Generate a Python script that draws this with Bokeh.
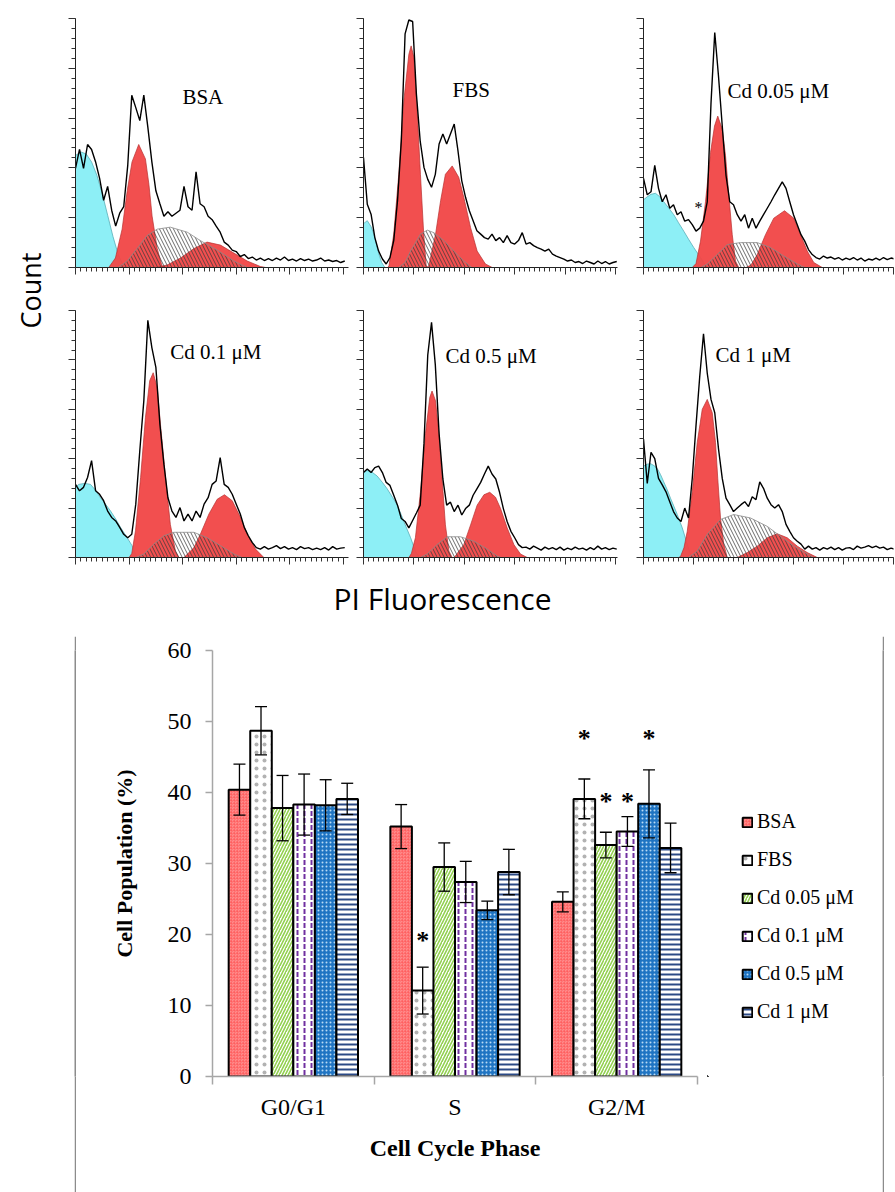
from bokeh.plotting import figure
from bokeh.models import (Range1d, SingleIntervalTicker, FixedTicker, Label, Whisker,
                          TeeHead, ColumnDataSource, Legend, LegendItem, Spacer)
from bokeh.layouts import row, column
from bokeh.core.properties import value
from bokeh.embed import file_html
from bokeh.resources import INLINE

# ---------------- flow-cytometry histograms (channel 0..1000, counts in axis units 0..5) -----
TRACE_CH = list(range(0, 1006, 15))

BSA_TRACE = [1.99, 2.37, 1.99, 2.47, 2.37, 2.12, 1.79, 1.35, 1.63, 1.15,
             0.83, 1.09, 1.22, 2.05, 3.46, 3.21, 2.95, 3.46, 2.82, 2.12,
             1.54, 1.28, 1.03, 1.12, 1.03, 1.09, 1.15, 1.63, 1.22, 1.15,
             1.92, 1.28, 1.22, 1.03, 0.96, 0.83, 0.71, 0.51, 0.45, 0.35,
             0.32, 0.22, 0.26, 0.18, 0.21, 0.15, 0.19, 0.14, 0.18, 0.14,
             0.19, 0.15, 0.21, 0.14, 0.17, 0.13, 0.18, 0.14, 0.17, 0.13,
             0.15, 0.19, 0.13, 0.15, 0.12, 0.14, 0.10, 0.13]
BSA_DEB_X = [0, 20, 40, 60, 80, 100, 120, 140, 160, 180, 190]
BSA_DEB_Y = [2.25, 2.32, 2.28, 2.12, 1.85, 1.48, 1.05, 0.62, 0.25, 0.03, 0]
BSA_G1_X = [124, 149, 174, 193, 211, 236, 261, 274, 286, 305, 323, 335]
BSA_G1_Y = [0, 0.19, 0.77, 1.54, 2.12, 2.47, 2.18, 1.67, 1.03, 0.38, 0.03, 0]
BSA_S_X = [160, 193, 230, 267, 305, 354, 417, 466, 529, 591, 640]
BSA_S_Y = [0, 0.13, 0.38, 0.64, 0.77, 0.81, 0.71, 0.54, 0.35, 0.13, 0]
BSA_G2_X = [300, 342, 392, 442, 491, 541, 591, 641, 690, 710]
BSA_G2_Y = [0, 0.05, 0.19, 0.38, 0.51, 0.45, 0.29, 0.13, 0.02, 0]

FBS_TRACE = [2.21, 1.27, 1.07, 0.60, 0.33, 0.17, 0.07, 0.20, 0.54, 1.34,
             2.54, 4.69, 4.97, 4.94, 3.48, 2.54, 2.01, 1.77, 1.61, 1.87,
             2.48, 2.68, 2.48, 2.68, 2.88, 2.34, 1.74, 1.41, 1.14, 0.94,
             0.74, 0.67, 0.60, 0.57, 0.67, 0.54, 0.60, 0.50, 0.64, 0.50,
             0.47, 0.54, 0.70, 0.47, 0.50, 0.44, 0.40, 0.37, 0.33, 0.37,
             0.27, 0.23, 0.20, 0.17, 0.13, 0.15, 0.10, 0.12, 0.08, 0.13,
             0.10, 0.07, 0.13, 0.08, 0.12, 0.07, 0.10, 0.12]
FBS_DEB_X = [0, 15, 30, 41, 52, 61, 72, 85]
FBS_DEB_Y = [0.88, 0.94, 0.82, 0.67, 0.45, 0.27, 0.10, 0]
FBS_G1_X = [95, 101, 120, 140, 160, 180, 189, 200, 213, 226, 239, 249, 255]
FBS_G1_Y = [0, 0.03, 0.67, 1.87, 3.35, 4.28, 4.45, 4.22, 3.15, 1.87, 0.67, 0.03, 0]
FBS_S_X = [140, 165, 187, 226, 253, 279, 319, 358, 398, 430]
FBS_S_Y = [0, 0.10, 0.33, 0.67, 0.75, 0.70, 0.54, 0.33, 0.13, 0]
FBS_G2_X = [250, 259, 286, 306, 325, 352, 378, 398, 425, 451, 484, 511]
FBS_G2_Y = [0, 0.03, 0.67, 1.34, 1.87, 2.04, 1.81, 1.41, 0.80, 0.33, 0.07, 0]

CD005_TRACE = [1.79, 1.46, 1.52, 2.05, 1.59, 1.32, 1.46, 1.19, 1.26, 1.06,
               1.12, 0.93, 0.96, 0.86, 0.73, 0.79, 0.93, 1.32, 3.30, 4.72,
               3.84, 2.84, 1.85, 1.32, 1.26, 1.06, 0.93, 1.06, 0.79, 0.99,
               0.79, 0.93, 1.06, 1.19, 1.32, 1.46, 1.59, 1.72, 1.59, 1.32,
               1.06, 0.86, 0.66, 0.53, 0.36, 0.26, 0.20, 0.17, 0.23, 0.19,
               0.21, 0.17, 0.20, 0.15, 0.19, 0.16, 0.20, 0.15, 0.19, 0.13,
               0.17, 0.15, 0.19, 0.15, 0.20, 0.16, 0.19, 0.17]
CD005_DEB_X = [0, 15, 30, 48, 65, 81, 100, 121, 140, 161, 180, 201, 228, 245, 258]
CD005_DEB_Y = [1.36, 1.42, 1.47, 1.49, 1.42, 1.32, 1.20, 1.06, 0.90, 0.73, 0.57, 0.40, 0.20, 0.07, 0]
CD005_G1_X = [195, 210, 228, 248, 268, 284, 297, 315, 328, 341, 355, 368, 381]
CD005_G1_Y = [0, 0.08, 0.53, 1.32, 2.31, 2.84, 3.04, 2.78, 2.25, 1.46, 0.66, 0.13, 0]
CD005_S_X = [230, 255, 295, 335, 388, 455, 508, 561, 615, 645]
CD005_S_Y = [0, 0.07, 0.26, 0.46, 0.50, 0.50, 0.40, 0.23, 0.07, 0]
CD005_G2_X = [410, 430, 455, 488, 521, 564, 601, 628, 655, 681, 715]
CD005_G2_Y = [0, 0.05, 0.26, 0.66, 0.99, 1.14, 0.99, 0.66, 0.33, 0.10, 0]

CD01_TRACE = [1.48, 1.35, 1.42, 1.62, 1.96, 1.35, 1.28, 1.15, 0.94, 0.81,
              0.74, 0.61, 0.47, 0.40, 0.47, 1.08, 2.16, 3.17, 4.80, 4.25,
              3.85, 2.70, 1.89, 1.21, 0.94, 0.81, 1.01, 0.74, 0.88, 0.74,
              0.94, 0.81, 1.08, 1.21, 1.48, 1.55, 2.02, 1.48, 1.42, 1.28,
              1.08, 0.88, 0.61, 0.44, 0.30, 0.20, 0.17, 0.22, 0.17, 0.20,
              0.24, 0.18, 0.22, 0.17, 0.20, 0.16, 0.22, 0.18, 0.20, 0.16,
              0.19, 0.16, 0.20, 0.15, 0.22, 0.17, 0.19, 0.20]
CD01_DEB_X = [0, 12, 35, 56, 75, 93, 112, 131, 150, 168, 193, 211, 224, 235]
CD01_DEB_Y = [1.42, 1.48, 1.50, 1.48, 1.36, 1.21, 1.08, 0.94, 0.78, 0.61, 0.40, 0.24, 0.07, 0]
CD01_G1_X = [200, 210, 224, 243, 261, 277, 290, 305, 317, 336, 354, 373, 386]
CD01_G1_Y = [0, 0.08, 0.54, 1.62, 2.83, 3.58, 3.74, 3.44, 2.70, 1.62, 0.67, 0.13, 0]
CD01_S_X = [225, 255, 292, 330, 367, 442, 491, 541, 591, 622]
CD01_S_Y = [0, 0.07, 0.27, 0.44, 0.51, 0.51, 0.40, 0.24, 0.07, 0]
CD01_G2_X = [405, 442, 466, 498, 529, 556, 585, 616, 641, 672, 703]
CD01_G2_Y = [0, 0.20, 0.47, 0.88, 1.18, 1.27, 1.15, 0.81, 0.47, 0.17, 0]

CD05_TRACE = [1.72, 1.79, 1.72, 1.82, 1.85, 1.72, 1.52, 1.46, 1.26, 1.06,
              0.79, 0.73, 0.60, 0.75, 0.90, 1.06, 2.31, 4.10, 4.76, 3.90,
              2.51, 1.59, 1.06, 1.12, 0.93, 1.06, 0.86, 0.99, 1.06, 1.26,
              1.39, 1.52, 1.69, 1.85, 1.69, 1.59, 1.32, 0.99, 0.73, 0.53,
              0.40, 0.26, 0.20, 0.21, 0.17, 0.23, 0.19, 0.15, 0.21, 0.17,
              0.20, 0.16, 0.21, 0.15, 0.19, 0.16, 0.21, 0.17, 0.19, 0.15,
              0.20, 0.16, 0.23, 0.17, 0.20, 0.16, 0.19, 0.17]
CD05_DEB_X = [0, 15, 28, 54, 75, 94, 115, 134, 147, 160, 187, 206, 222]
CD05_DEB_Y = [1.74, 1.76, 1.75, 1.65, 1.52, 1.39, 1.22, 1.06, 0.90, 0.73, 0.40, 0.13, 0]
CD05_G1_X = [180, 190, 206, 226, 246, 263, 272, 286, 299, 312, 325, 339, 352]
CD05_G1_Y = [0, 0.08, 0.40, 1.32, 2.51, 3.24, 3.37, 3.17, 2.51, 1.59, 0.66, 0.13, 0]
CD05_S_X = [225, 253, 292, 332, 385, 438, 491, 530, 545]
CD05_S_Y = [0, 0.07, 0.26, 0.42, 0.42, 0.33, 0.17, 0.03, 0]
CD05_G2_X = [360, 398, 425, 451, 478, 501, 524, 544, 570, 597, 623, 650]
CD05_G2_Y = [0, 0.26, 0.66, 1.06, 1.27, 1.32, 1.22, 0.99, 0.60, 0.26, 0.07, 0]

CD1_TRACE = [2.40, 1.50, 2.13, 2.00, 1.60, 1.47, 1.33, 1.13, 0.93, 0.80,
             0.73, 1.00, 0.80, 1.60, 2.67, 3.67, 4.53, 3.73, 3.20, 2.93,
             2.20, 1.60, 1.20, 1.07, 0.93, 1.00, 1.07, 1.13, 1.03, 1.23,
             1.17, 1.53, 1.40, 1.20, 1.07, 1.00, 1.07, 0.93, 0.67, 0.53,
             0.40, 0.33, 0.27, 0.17, 0.23, 0.17, 0.20, 0.15, 0.20, 0.17,
             0.21, 0.16, 0.20, 0.15, 0.19, 0.20, 0.16, 0.23, 0.19, 0.21,
             0.24, 0.20, 0.23, 0.19, 0.21, 0.16, 0.19, 0.17]
CD1_DEB_X = [0, 15, 28, 42, 55, 68, 81, 95, 108, 122, 135, 155, 175, 188, 197]
CD1_DEB_Y = [1.85, 1.89, 1.90, 1.86, 1.80, 1.68, 1.53, 1.37, 1.20, 1.03, 0.87, 0.60, 0.27, 0.07, 0]
CD1_G1_X = [140, 148, 162, 175, 195, 215, 235, 255, 275, 288, 297, 308, 321, 335]
CD1_G1_Y = [0, 0.02, 0.20, 0.53, 1.33, 2.33, 3.00, 3.20, 2.93, 2.33, 1.60, 0.80, 0.27, 0]
CD1_S_X = [180, 215, 255, 308, 361, 428, 495, 548, 601, 655, 681]
CD1_S_Y = [0, 0.13, 0.47, 0.77, 0.87, 0.80, 0.63, 0.43, 0.23, 0.07, 0]
CD1_G2_X = [375, 415, 455, 495, 535, 575, 615, 655, 695]
CD1_G2_Y = [0, 0.10, 0.23, 0.40, 0.48, 0.40, 0.23, 0.10, 0]

PANEL_LABELS = ["BSA", "FBS", "Cd 0.05 \u03bcM", "Cd 0.1 \u03bcM", "Cd 0.5 \u03bcM", "Cd 1 \u03bcM"]

# ---------------- bar chart -----------------
PHASES = ["G0/G1", "S", "G2/M"]
GROUPS = ["BSA", "FBS", "Cd 0.05 \u03bcM", "Cd 0.1 \u03bcM", "Cd 0.5 \u03bcM", "Cd 1 \u03bcM"]
BSA_PCT = [40.4, 35.2, 24.6]
FBS_PCT = [48.7, 12.1, 39.1]
CD005_PCT = [37.8, 29.5, 32.6]
CD01_PCT = [38.3, 27.4, 34.5]
CD05_PCT = [38.2, 23.4, 38.4]
CD1_PCT = [39.1, 28.8, 32.2]
BSA_ERR = [3.6, 3.1, 1.4]
FBS_ERR = [3.4, 3.3, 2.8]
CD005_ERR = [4.6, 3.4, 1.8]
CD01_ERR = [4.3, 2.9, 2.1]
CD05_ERR = [3.6, 1.3, 4.8]
CD1_ERR = [2.2, 3.2, 3.5]
STAR_PHASE = ["S", "G2/M", "G2/M", "G2/M", "G2/M"]
STAR_GROUP = ["FBS", "FBS", "Cd 0.05 \u03bcM", "Cd 0.1 \u03bcM", "Cd 0.5 \u03bcM"]
STAR_Y = [19.1, 47.6, 38.8, 38.8, 47.6]

VALUES = [BSA_PCT, FBS_PCT, CD005_PCT, CD01_PCT, CD05_PCT, CD1_PCT]
ERRORS = [BSA_ERR, FBS_ERR, CD005_ERR, CD01_ERR, CD05_ERR, CD1_ERR]

# ---------------- styles -----------------
CYAN = "#8DEFF6"
RED = "#F14646"
SERIF = "Liberation Serif"
SANS = "Open Sans"
BOX_GRAY = "#8C8C8C"


def hist_panel(width, height, left, right, top, bottom, x_end, trace, deb, g1, s, g2,
               label, lx, ly, star=None):
    p = figure(width=width, height=height, x_range=Range1d(0, x_end), y_range=Range1d(0, 5),
               output_backend="svg", toolbar_location=None,
               min_border_left=left, min_border_right=right,
               min_border_top=top, min_border_bottom=bottom)
    p.grid.visible = False
    p.outline_line_color = None
    p.xaxis.ticker = SingleIntervalTicker(interval=200, num_minor_ticks=10)
    p.yaxis.ticker = SingleIntervalTicker(interval=1, num_minor_ticks=5)
    for ax in list(p.xaxis) + list(p.yaxis):
        ax.major_label_text_font_size = "1px"
        ax.major_label_text_color = None
        ax.major_label_standoff = 0
        ax.axis_line_color = "#222222"
        ax.major_tick_line_color = "#333333"
        ax.minor_tick_line_color = "#333333"
        ax.major_tick_out = 7
        ax.major_tick_in = 0
        ax.minor_tick_out = 4
        ax.minor_tick_in = 0
    p.varea(x=deb[0], y1=0, y2=deb[1], fill_color=CYAN, fill_alpha=1)
    p.line(deb[0], deb[1], line_color="#5AAFB8", line_width=0.8)
    p.varea(x=g1[0], y1=0, y2=g1[1], fill_color=RED, fill_alpha=0.95)
    p.varea(x=g2[0], y1=0, y2=g2[1], fill_color=RED, fill_alpha=0.95)
    p.line(g1[0], g1[1], line_color="#B83030", line_width=0.7)
    p.line(g2[0], g2[1], line_color="#B83030", line_width=0.7)
    p.varea(x=s[0], y1=0, y2=s[1], fill_color="white", fill_alpha=0,
            hatch_pattern="left_diagonal_line", hatch_color="#3A3A3A",
            hatch_alpha=0.75, hatch_weight=1, hatch_scale=7)
    p.line(s[0], s[1], line_color="#8A8A8A", line_width=0.8)
    p.line(TRACE_CH, trace, line_color="black", line_width=1.4)
    p.add_layout(Label(x=lx, y=ly, text=label, text_font=SERIF, text_font_size="21px",
                       text_align="left", text_baseline="middle", text_color="black"))
    if star is not None:
        p.add_layout(Label(x=star[0], y=star[1], text="*", text_font=SERIF,
                           text_font_size="16px", text_align="center",
                           text_baseline="middle", text_color="black"))
    return p


f1 = hist_panel(290, 290, 15, 2, 7, 23, 1019, BSA_TRACE, (BSA_DEB_X, BSA_DEB_Y),
                (BSA_G1_X, BSA_G1_Y), (BSA_S_X, BSA_S_Y), (BSA_G2_X, BSA_G2_Y),
                PANEL_LABELS[0], 399, 3.42)
f2 = hist_panel(269, 290, 13, 2, 18, 23, 1008, FBS_TRACE, (FBS_DEB_X, FBS_DEB_Y),
                (FBS_G1_X, FBS_G1_Y), (FBS_S_X, FBS_S_Y), (FBS_G2_X, FBS_G2_Y),
                PANEL_LABELS[1], 353, 3.57)
f3 = hist_panel(276, 290, 24, 2, 15, 23, 1000, CD005_TRACE, (CD005_DEB_X, CD005_DEB_Y),
                (CD005_G1_X, CD005_G1_Y), (CD005_S_X, CD005_S_Y), (CD005_G2_X, CD005_G2_Y),
                PANEL_LABELS[2], 336, 3.55, star=(220, 1.21))
f4 = hist_panel(290, 280, 15, 2, 20, 13, 1019, CD01_TRACE, (CD01_DEB_X, CD01_DEB_Y),
                (CD01_G1_X, CD01_G1_Y), (CD01_S_X, CD01_S_Y), (CD01_G2_X, CD01_G2_Y),
                PANEL_LABELS[3], 354, 4.15)
f5 = hist_panel(269, 280, 13, 2, 15, 13, 1008, CD05_TRACE, (CD05_DEB_X, CD05_DEB_Y),
                (CD05_G1_X, CD05_G1_Y), (CD05_S_X, CD05_S_Y), (CD05_G2_X, CD05_G2_Y),
                PANEL_LABELS[4], 325, 4.07)
f6 = hist_panel(276, 280, 24, 2, 17, 13, 1000, CD1_TRACE, (CD1_DEB_X, CD1_DEB_Y),
                (CD1_G1_X, CD1_G1_Y), (CD1_S_X, CD1_S_Y), (CD1_G2_X, CD1_G2_Y),
                PANEL_LABELS[5], 288, 4.10)


def blank(width, height, color="white"):
    p = figure(width=width, height=height, x_range=Range1d(0, width), y_range=Range1d(0, height),
               output_backend="svg", toolbar_location=None,
               min_border_left=0, min_border_right=0, min_border_top=0, min_border_bottom=0,
               background_fill_color=color, border_fill_color=color)
    p.axis.visible = False
    p.grid.visible = False
    p.outline_line_color = None
    return p


count_fig = blank(60, 570)
count_fig.add_layout(Label(x=30, y=280, text="Count", angle=1.5708, text_font=SANS,
                           text_font_size="27px", text_align="center", text_baseline="middle",
                           text_color="black"))

pi_fig = blank(895, 64)
pi_fig.add_layout(Label(x=442, y=36, text="PI Fluorescence", text_font=SANS,
                        text_font_size="30px", text_align="center", text_baseline="middle",
                        text_color="black"))

# ---------------- bar chart figure -----------------
BAR_W = 0.1333
HATCH = ["criss_cross", "dot", "right_diagonal_line", "vertical_dash", "dot", "horizontal_line"]
FILL = ["#FF8C8C", "white", "white", "white", "#1F74C2", "white"]
HCOL = ["#FF4F4F", "black", "#92D050", "#7030A0", "#B9DBF5", "#2B4A86"]
HALPHA = [0.6, 0.3, 1, 1, 1, 1]
HSCALE = [3, 8, 6, 7, 4, 5]
HWEIGHT = [0.6, 1, 1.6, 2, 1, 2]


def bar_style(i):
    return dict(fill_color=FILL[i], line_color="black", line_width=2,
                hatch_pattern=HATCH[i], hatch_color=HCOL[i], hatch_alpha=HALPHA[i],
                hatch_scale=HSCALE[i], hatch_weight=HWEIGHT[i])


b = figure(width=631, height=556, x_range=Range1d(0, 3), y_range=Range1d(0, 60),
           output_backend="svg", toolbar_location=None,
           min_border_left=136, min_border_right=10, min_border_top=14, min_border_bottom=116)
b.grid.visible = False
b.outline_line_color = None

for i, g in enumerate(GROUPS):
    xs = [k + 0.5 + (i - 2.5) * BAR_W for k in range(len(PHASES))]
    vals = VALUES[i]
    errs = ERRORS[i]
    src = ColumnDataSource(dict(x=xs, top=vals,
                                upper=[v + e for v, e in zip(vals, errs)],
                                lower=[v - e for v, e in zip(vals, errs)]))
    b.vbar(x="x", top="top", bottom=0, width=BAR_W, source=src, **bar_style(i))
    w = Whisker(base="x", upper="upper", lower="lower", source=src,
                line_color="black", line_width=1.3, level="overlay",
                upper_head=TeeHead(size=12, line_color="black", line_width=1.3),
                lower_head=TeeHead(size=12, line_color="black", line_width=1.3))
    b.add_layout(w)

star_x = [PHASES.index(ph) + 0.5 + (GROUPS.index(g) - 2.5) * BAR_W
          for ph, g in zip(STAR_PHASE, STAR_GROUP)]
b.text(x=star_x, y=STAR_Y, text=["*"] * len(star_x), text_font=value(SERIF),
       text_font_style="bold", text_font_size="26px", text_align="center",
       text_baseline="middle", text_color="black")

yax = b.yaxis[0]
yax.ticker = SingleIntervalTicker(interval=10, num_minor_ticks=0)
yax.axis_line_color = "#A6A6A6"
yax.axis_line_width = 1.5
yax.major_tick_line_color = "#A6A6A6"
yax.major_tick_line_width = 1.5
yax.major_tick_out = 7
yax.major_tick_in = 0
yax.minor_tick_line_color = None
yax.major_label_text_font = SERIF
yax.major_label_text_font_size = "24px"
yax.major_label_text_color = "black"
yax.major_label_standoff = 14
yax.axis_label = "Cell Population (%)"
yax.axis_label_text_font = SERIF
yax.axis_label_text_font_style = "bold"
yax.axis_label_text_font_size = "22px"
yax.axis_label_text_color = "black"
yax.axis_label_standoff = 28

xax = b.xaxis[0]
xax.ticker = FixedTicker(ticks=[0.5, 1.5, 2.5], minor_ticks=[0, 1, 2, 3])
xax.major_label_overrides = {0.5: PHASES[0], 1.5: PHASES[1], 2.5: PHASES[2]}
xax.axis_line_color = "#A6A6A6"
xax.axis_line_width = 1.5
xax.major_tick_out = 0
xax.major_tick_in = 0
xax.minor_tick_line_color = "#A6A6A6"
xax.minor_tick_line_width = 1.5
xax.minor_tick_out = 8
xax.minor_tick_in = 0
xax.major_label_text_font = SERIF
xax.major_label_text_font_size = "24px"
xax.major_label_text_color = "black"
xax.major_label_standoff = 9
xax.axis_label = "Cell Cycle Phase"
xax.axis_label_text_font = SERIF
xax.axis_label_text_font_style = "bold"
xax.axis_label_text_font_size = "24px"
xax.axis_label_text_color = "black"
xax.axis_label_standoff = 12

# legend panel to the right of the bars; each swatch is a proxy bar kept out of view
leg_fig = blank(175, 556)
leg_items = []
for i, g in enumerate(GROUPS):
    r = leg_fig.vbar(x=[-5000], top=[-5000], bottom=-5000, width=1, **bar_style(i))
    leg_items.append(LegendItem(label=g, renderers=[r]))
legend = Legend(items=leg_items, location=(34, 53), glyph_width=12, glyph_height=12,
                label_standoff=4, spacing=15, padding=0, margin=0, border_line_color=None,
                background_fill_alpha=0, label_text_font=SERIF, label_text_font_size="20px",
                label_height=20, label_text_color="black")
leg_fig.add_layout(legend)

# gray frame around the bar chart (top, left and right edges; bottom lies below the page)
box_top = blank(810, 2, BOX_GRAY)
box_left = blank(2, 556, BOX_GRAY)
box_right = blank(2, 556, BOX_GRAY)
boxed = column(box_top, row(box_left, b, leg_fig, box_right))

bottom = row(Spacer(width=74, height=558), boxed, Spacer(width=11, height=558))

layout = column(row(count_fig, column(row(f1, f2, f3), row(f4, f5, f6))), pi_fig, bottom)

open("out.html", "w").write(file_html(layout, INLINE))
